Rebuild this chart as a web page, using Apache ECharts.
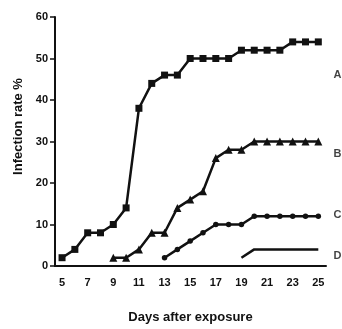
<!DOCTYPE html>
<html>
<head>
<meta charset="utf-8">
<script src="https://cdn.jsdelivr.net/npm/echarts@6/dist/echarts.min.js"></script>
<style>html,body{margin:0;padding:0;background:#fff}#c{width:342px;height:329px}</style>
</head>
<body>
<div id="c"></div>
<script>
var daysA = [5,6,7,8,9,10,11,12,13,14,15,16,17,18,19,20,21,22,23,24,25];
var valuesA = [2,4,8,8,10,14,38,44,46,46,50,50,50,50,52,52,52,52,54,54,54];
var daysB = [9,10,11,12,13,14,15,16,17,18,19,20,21,22,23,24,25];
var valuesB = [2,2,4,8,8,14,16,18,26,28,28,30,30,30,30,30,30];
var daysC = [13,14,15,16,17,18,19,20,21,22,23,24,25];
var valuesC = [2,4,6,8,10,10,10,12,12,12,12,12,12];
var daysD = [19,20,21,22,23,24,25];
var valuesD = [2,4,4,4,4,4,4];
var xTicks = [5,7,9,11,13,15,17,19,21,23,25];
var yTicks = [0,10,20,30,40,50,60];
var curveNames = ['A','B','C','D'];
var curveLabelY = [46,27,12.3,2.5];
var curveLabelX = 26.5;

function pairs(xs, ys){ return xs.map(function(x,i){ return [x, ys[i]]; }); }
var INK = '#111';
var font = '"Liberation Sans", Arial, sans-serif';
function lineSeries(name, xs, ys, symbol, size){
  return {
    name: name, type: 'line', data: pairs(xs, ys),
    symbol: symbol, symbolSize: size, showSymbol: symbol !== 'none',
    lineStyle: {color: INK, width: 2.5}, itemStyle: {color: INK},
    animation: false, z: 3
  };
}
var chart = echarts.init(document.getElementById('c'), null, {renderer: 'canvas'});
chart.setOption({
  backgroundColor: '#fff',
  animation: false,
  grid: {left: 55, right: 16, top: 17, bottom: 61, containLabel: false},
  xAxis: {
    type: 'value', min: 4.45, max: 25.6,
    name: 'Days after exposure', nameLocation: 'middle', nameGap: 45,
    nameTextStyle: {fontFamily: font, fontWeight: 'bold', fontSize: 13, color: INK},
    axisLine: {lineStyle: {color: INK, width: 2}},
    axisTick: {show: false},
    splitLine: {show: false},
    axisLabel: {customValues: xTicks, fontFamily: font, fontWeight: 'bold', fontSize: 11, color: INK, margin: 11}
  },
  yAxis: {
    type: 'value', min: 0, max: 60, interval: 10,
    name: 'Infection rate %', nameLocation: 'middle', nameGap: 27,
    nameTextStyle: {fontFamily: font, fontWeight: 'bold', fontSize: 13, color: INK, padding: [0,0,0,30]},
    axisLine: {show: true, lineStyle: {color: INK, width: 2}},
    axisTick: {show: true, length: 5, lineStyle: {color: INK, width: 1.5}},
    splitLine: {show: false},
    axisLabel: {customValues: yTicks, fontFamily: font, fontWeight: 'bold', fontSize: 11, color: INK, margin: 7}
  },
  series: [
    lineSeries('A', daysA, valuesA, 'rect', 7),
    lineSeries('B', daysB, valuesB, 'triangle', 8),
    lineSeries('C', daysC, valuesC, 'circle', 5.5),
    lineSeries('D', daysD, valuesD, 'none', 0),
    {
      type: 'scatter', clip: false, symbolSize: 1, itemStyle: {color: 'rgba(0,0,0,0)'},
      data: curveNames.map(function(n,i){ return {value: [curveLabelX, curveLabelY[i]], name: n}; }),
      label: {show: true, position: 'inside', formatter: '{b}', fontFamily: font, fontWeight: 'bold', fontSize: 11, color: INK},
      animation: false
    }
  ]
});
</script>
</body>
</html>
